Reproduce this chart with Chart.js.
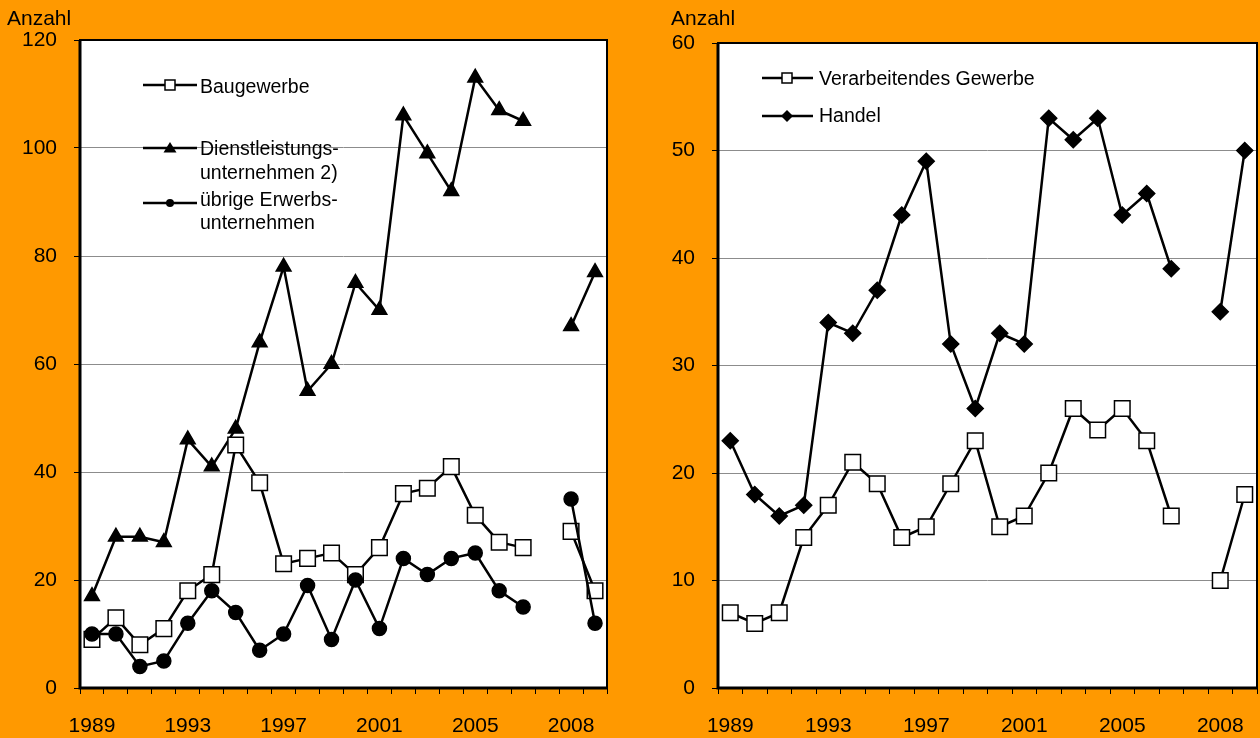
<!DOCTYPE html>
<html>
<head>
<meta charset="utf-8">
<script src="https://cdn.jsdelivr.net/npm/chart.js@4.4.1/dist/chart.umd.min.js"></script>
<style>
  html, body { margin: 0; padding: 0; background: #FF9900; }
  body { width: 1260px; height: 738px; position: relative; overflow: hidden;
         font-family: "Liberation Sans", Arial, sans-serif; color: #000; }
  .panel { position: absolute; top: 0; height: 738px; }
  .txt { position: absolute; font-size: 19.5px; line-height: 24px; white-space: nowrap; }
  .ax { position: absolute; font-size: 21px; line-height: 24px; white-space: nowrap; }
  svg.leg { position: absolute; left: 0; top: 0; pointer-events: none; }
</style>
</head>
<body>
<div class="panel" style="left:0; width:630px"><canvas id="c1" width="630" height="738"></canvas></div>
<div class="panel" style="left:630px; width:650px"><canvas id="c2" width="650" height="738"></canvas></div>

<div class="ax" style="left:7px; top:6px">Anzahl</div>
<div class="ax" style="left:671px; top:6px">Anzahl</div>

<div class="txt" style="left:200px; top:74px">Baugewerbe</div>
<div class="txt" style="left:200px; top:136px">Dienstleistungs-<br>unternehmen 2)</div>
<div class="txt" style="left:200px; top:188px; line-height:23px">übrige Erwerbs-<br>unternehmen</div>
<div class="txt" style="left:819px; top:66px">Verarbeitendes Gewerbe</div>
<div class="txt" style="left:819px; top:103px">Handel</div>

<svg class="leg" width="1260" height="738">
  <g stroke="#000" stroke-width="2.5">
    <line x1="143" y1="85" x2="197" y2="85"/>
    <line x1="143" y1="148" x2="197" y2="148"/>
    <line x1="143" y1="203" x2="197" y2="203"/>
    <line x1="762" y1="78" x2="813" y2="78"/>
    <line x1="762" y1="116" x2="813" y2="116"/>
  </g>
  <rect x="165" y="80" width="10" height="10" fill="#fff" stroke="#000" stroke-width="1.5"/>
  <polygon points="170,142 176.5,152.5 163.5,152.5" fill="#000"/>
  <circle cx="170" cy="203" r="4" fill="#000"/>
  <rect x="782" y="73" width="10" height="10" fill="#fff" stroke="#000" stroke-width="1.5"/>
  <polygon points="787,110 793,116 787,122 781,116" fill="#000"/>
</svg>

<script>
// ---- data ----
const categories = ['1989','1990','1991','1992','1993','1994','1995','1996','1997','1998',
                    '1999','2000','2001','2002','2003','2004','2005','2006','2007','','2008','2009'];
const tickLabels = ['1989','1993','1997','2001','2005','2008'];

const baugewerbe   = [9, 13, 8, 11, 18, 21, 45, 38, 23, 24, 25, 21, 26, 36, 37, 41, 32, 27, 26, null, 29, 18];
const dienstleist  = [17, 28, 28, 27, 46, 41, 48, 64, 78, 55, 60, 75, 70, 106, 99, 92, 113, 107, 105, null, 67, 77];
const uebrige      = [10, 10, 4, 5, 12, 18, 14, 7, 10, 19, 9, 20, 11, 24, 21, 24, 25, 18, 15, null, 35, 12];

const verarbeitend = [7, 6, 7, 14, 17, 21, 19, 14, 15, 19, 23, 15, 16, 20, 26, 24, 26, 23, 16, null, 10, 18];
const handel       = [23, 18, 16, 17, 34, 33, 37, 44, 49, 32, 26, 33, 32, 53, 51, 53, 44, 46, 39, null, 35, 50];

const leftYTicks  = { min: 0, max: 120, step: 20 };
const rightYTicks = { min: 0, max: 60, step: 10 };

// ---- chart setup ----
Chart.defaults.font.family = '"Liberation Sans", Arial, sans-serif';
Chart.defaults.font.size = 21;
Chart.defaults.color = '#000';

const framePlugin = {
  id: 'frame',
  beforeDraw(chart) {
    const a = chart.chartArea, ctx = chart.ctx;
    ctx.save();
    ctx.fillStyle = '#fff';
    ctx.fillRect(a.left, a.top, a.right - a.left, a.bottom - a.top);
    ctx.restore();
  },
  beforeDatasetsDraw(chart) {
    const a = chart.chartArea, ctx = chart.ctx;
    ctx.save();
    ctx.strokeStyle = '#000';
    ctx.lineWidth = 2;
    ctx.strokeRect(a.left, a.top, a.right - a.left, a.bottom - a.top);
    ctx.lineWidth = 3;
    ctx.beginPath();
    ctx.moveTo(a.left, a.top); ctx.lineTo(a.left, a.bottom); ctx.lineTo(a.right, a.bottom);
    ctx.stroke();
    ctx.restore();
  }
};

function ds(label, data, style, radius, fill, order) {
  return {
    label, data, order,
    borderColor: '#000', borderWidth: 2.5,
    pointStyle: style, pointRadius: radius, pointHoverRadius: radius,
    pointBackgroundColor: fill, pointBorderColor: '#000', pointBorderWidth: 1.5,
    spanGaps: false, tension: 0
  };
}

function makeChart(id, datasets, yt, pad, yWidth) {
  new Chart(document.getElementById(id), {
    type: 'line',
    data: { labels: categories, datasets },
    options: {
      responsive: false, animation: false, devicePixelRatio: 1,
      layout: { padding: pad },
      plugins: { legend: { display: false }, tooltip: { enabled: false } },
      scales: {
        x: {
          type: 'category', offset: true,
          border: { display: false },
          grid: { display: true, drawOnChartArea: false, offset: true, tickLength: 6, tickColor: '#000', tickWidth: 1 },
          ticks: {
            autoSkip: false, maxRotation: 0, padding: 20,
            callback: (v, i) => tickLabels.includes(categories[i]) ? categories[i] : ''
          },
          afterFit: s => { s.height = 50; s.paddingLeft = 0; s.paddingRight = 0; }
        },
        y: {
          min: yt.min, max: yt.max,
          border: { display: false },
          grid: { color: '#8c8c8c', lineWidth: 1, tickLength: 6, tickColor: '#000' },
          ticks: { stepSize: yt.step, padding: 17 },
          afterFit: s => { s.width = yWidth; s.paddingTop = 0; s.paddingBottom = 0; }
        }
      }
    },
    plugins: [framePlugin]
  });
}

makeChart('c1', [
  ds('Baugewerbe', baugewerbe, 'rect', 11, '#fff', 1),
  ds('Dienstleistungsunternehmen 2)', dienstleist, 'triangle', 8.5, '#000', 2),
  ds('übrige Erwerbsunternehmen', uebrige, 'circle', 7, '#000', 0)
], leftYTicks, { left: 0, top: 40, right: 23, bottom: 0 }, 80);

makeChart('c2', [
  ds('Verarbeitendes Gewerbe', verarbeitend, 'rect', 11, '#fff', 1),
  ds('Handel', handel, 'rectRot', 8, '#000', 0)
], rightYTicks, { left: 0, top: 43, right: 23, bottom: 0 }, 88);
</script>
</body>
</html>
